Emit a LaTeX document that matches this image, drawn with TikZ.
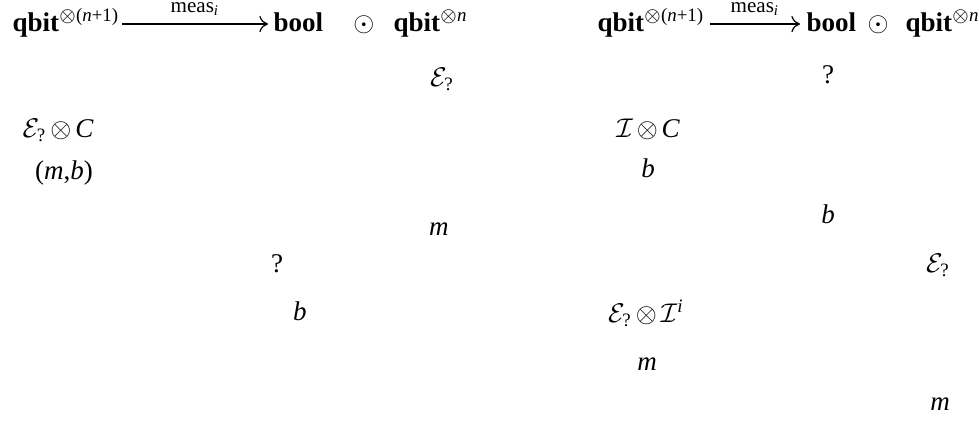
\documentclass[tikz,border=0pt]{standalone}
\usepackage{amsmath}
\usepackage{fontspec}
\setmainfont{Liberation Serif}
\usetikzlibrary{calc,arrows.meta}
\newcommand{\vv}[1]{\textit{#1}}
\newcommand{\Eq}{\mathcal{E}_{\textrm{?}}}
\medmuskip=2.5mu
\begin{document}
\begin{tikzpicture}[x=0.37pt,y=-0.37pt,
  lbl/.style={inner sep=0pt,anchor=base},
  lblw/.style={inner sep=0pt,anchor=base west},
  arr/.style={-{To[length=3.2pt,width=6pt]},line width=0.45pt},
  meas/.style={midway,anchor=base,inner sep=0pt,yshift=4.2pt,font=\fontsize{7.8}{9}\selectfont}]
\useasboundingbox (0,0) rectangle (979,421);
% left diagram
\node[lblw] (lq) at (12,31) {\textbf{qbit}$^{\otimes\textrm{(}\vv{n}\textrm{+1)}}$};
\node[lblw] (lb) at (273,31) {\textbf{bool}};
\node[lbl] (lo) at (364,31) {$\odot$};
\node[lblw] (lqn) at (393,31) {\textbf{qbit}$^{\otimes\vv{n}}$};
\draw[arr] ($(lq.base east)+(2,-7)$) -- node[meas] (lmeas) {meas$_{\textit{i}}$} ($(lb.base west)+(-5,-7)$);
\node[lbl] (lE) at (442,86) {$\Eq$};
\node[lbl] (lEC) at (58,137) {$\Eq\otimes\vv{C}$};
\node[lbl] (lmb) at (64,179) {(\vv{m},\vv{b})};
\node[lbl] (lm) at (439,235) {\vv{m}};
\node[lbl] (lqm) at (277,272) {?};
\node[lbl] (lbb) at (300,320) {\vv{b}};
% right diagram
\node[lblw] (rq) at (597,31) {\textbf{qbit}$^{\otimes\textrm{(}\vv{n}\textrm{+1)}}$};
\node[lblw] (rb) at (806,31) {\textbf{bool}};
\node[lbl] (ro) at (878,31) {$\odot$};
\node[lblw] (rqn) at (905,31) {\textbf{qbit}$^{\otimes\vv{n}}$};
\draw[arr] ($(rq.base east)+(5,-7)$) -- node[meas] (rmeas) {meas$_{\textit{i}}$} ($(rb.base west)+(-6,-7)$);
\node[lbl] (rqm) at (828,83) {?};
\node[lbl] (rIC) at (648,137) {$\mathcal{I}\otimes\vv{C}$};
\node[lbl] (rb1) at (648,177) {\vv{b}};
\node[lbl] (rb2) at (828,223) {\vv{b}};
\node[lbl] (rE) at (938,272) {$\Eq$};
\node[lbl] (rEI) at (646,322) {$\Eq\otimes\mathcal{I}^{\vv{i}}$};
\node[lbl] (rm1) at (647,370) {\vv{m}};
\node[lbl] (rm2) at (940,410) {\vv{m}};
\end{tikzpicture}
\end{document}
